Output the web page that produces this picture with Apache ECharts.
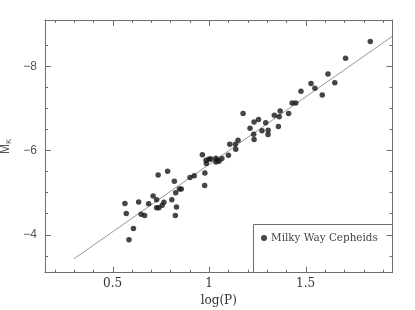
<!DOCTYPE html>
<html>
<head>
<meta charset="utf-8">
<script src="https://cdn.jsdelivr.net/npm/echarts@6/dist/echarts.min.js"></script>
<style>html,body{margin:0;padding:0;background:#fff;}#c{width:415px;height:310px;}</style>
</head>
<body>
<div id="c"></div>
<script>
// Data
const logP = [0.564,0.571,0.585,0.608,0.635,0.648,0.666,0.687,0.710,0.728,0.728,0.736,0.740,0.757,0.766,0.785,0.807,0.820,0.827,0.831,0.825,0.846,0.856,0.901,0.923,0.965,0.978,0.977,0.986,0.984,1.000,1.009,1.035,1.035,1.042,1.052,1.066,1.100,1.107,1.136,1.138,1.150,1.176,1.212,1.231,1.233,1.233,1.256,1.274,1.293,1.306,1.305,1.338,1.359,1.363,1.368,1.412,1.430,1.449,1.476,1.528,1.548,1.586,1.616,1.651,1.707,1.835];
const MK = [-4.745,-4.507,-3.88,-4.15,-4.78,-4.49,-4.46,-4.74,-4.92,-4.83,-4.64,-5.42,-4.645,-4.70,-4.77,-5.51,-4.83,-5.27,-5.00,-4.66,-4.46,-5.09,-5.09,-5.36,-5.40,-5.90,-5.47,-5.17,-5.69,-5.77,-5.80,-5.80,-5.82,-5.73,-5.77,-5.745,-5.81,-5.89,-6.15,-6.15,-6.03,-6.245,-6.88,-6.53,-6.39,-6.26,-6.68,-6.74,-6.47,-6.66,-6.48,-6.38,-6.84,-6.57,-6.80,-6.94,-6.88,-7.13,-7.13,-7.41,-7.59,-7.48,-7.32,-7.82,-7.61,-8.19,-8.59];
const fitX = [0.30, 1.95];
const fitY = [-3.43, -8.715];
const seriesName = 'Milky Way Cepheids';
const xMajor = [0.5, 1, 1.5];
const xMinor = [0.2,0.3,0.4,0.6,0.7,0.8,0.9,1.1,1.2,1.3,1.4,1.6,1.7,1.8,1.9];
const yMajor = [-8, -6, -4];
const yMinor = [-8.5,-7.5,-7,-6.5,-5.5,-5,-4.5,-3.5];
const xRange = [0.15, 1.95];
const yRange = [-9.1, -3.1];

const frameColor = '#6e6e6e';
const MAJOR_LEN = 6, MINOR_LEN = 3;
const chart = echarts.init(document.getElementById('c'), null, {renderer: 'canvas'});

function yAx(pos, vals, len, major, showLine) {
  return {
    type: 'value', position: pos, min: yRange[0], max: yRange[1], inverse: true,
    splitLine: {show: false},
    axisLine: {show: showLine, onZero: false, lineStyle: {color: frameColor, width: 1}},
    axisTick: {show: true, inside: true, length: len, customValues: vals, lineStyle: {color: frameColor, width: 1}},
    axisLabel: (major && pos === 'left') ? {
      show: true, customValues: vals, margin: 8, color: '#555',
      fontFamily: 'Liberation Sans', fontSize: 12,
      formatter: v => String(v).replace('-', '\u2212')
    } : {show: false},
    name: (major && pos === 'left') ? '{m|M}{k|K}' : '',
    nameLocation: 'middle', nameGap: 29, nameRotate: 90,
    nameTextStyle: {
      color: '#555', fontFamily: 'Liberation Sans',
      rich: {
        m: {fontSize: 12, color: '#555', fontFamily: 'Liberation Sans'},
        k: {fontSize: 8, color: '#555', fontFamily: 'Liberation Sans', verticalAlign: 'bottom', padding: [5, 0, 0, 0]}
      }
    }
  };
}

// x ticks (top and bottom, inward) drawn through the x scale
function xTickRender(params, api) {
  const v = api.value(0);
  const len = api.value(2) ? MAJOR_LEN : MINOR_LEN;
  const cs = params.coordSys;
  const px = Math.round(api.coord([v, api.value(1)])[0]) + 0.5;
  const yb = cs.y + cs.height, yt = cs.y;
  const st = {stroke: frameColor, lineWidth: 1, fill: null};
  return {
    type: 'group',
    children: [
      {type: 'line', shape: {x1: px, y1: yb, x2: px, y2: yb - len}, style: st},
      {type: 'line', shape: {x1: px, y1: yt, x2: px, y2: yt + len}, style: st}
    ]
  };
}

const option = {
  animation: false,
  backgroundColor: '#fff',
  grid: {left: 45, right: 22.5, top: 20, bottom: 37.3, containLabel: false, outerBoundsMode: 'none'},
  xAxis: [
    {
      type: 'value', position: 'bottom', min: xRange[0], max: xRange[1],
      splitLine: {show: false},
      axisLine: {show: true, onZero: false, lineStyle: {color: frameColor, width: 1}},
      axisTick: {show: false},
      axisLabel: {
        show: true, customValues: xMajor, margin: 5, color: '#333',
        fontFamily: 'DejaVu Serif', fontSize: 12, formatter: v => String(v)
      },
      name: 'log(P)', nameLocation: 'middle', nameGap: 21,
      nameTextStyle: {fontFamily: 'DejaVu Serif', fontSize: 12, color: '#333'}
    },
    {
      type: 'value', position: 'top', min: xRange[0], max: xRange[1],
      splitLine: {show: false},
      axisLine: {show: true, onZero: false, lineStyle: {color: frameColor, width: 1}},
      axisTick: {show: false}, axisLabel: {show: false}
    }
  ],
  yAxis: [
    yAx('left', yMajor, MAJOR_LEN, true, true),
    yAx('left', yMinor, MINOR_LEN, false, false),
    yAx('right', yMajor, MAJOR_LEN, true, true),
    yAx('right', yMinor, MINOR_LEN, false, false)
  ],
  legend: {
    show: true, data: [seriesName], left: 256, top: 228,
    icon: 'circle', itemWidth: 6, itemHeight: 6, itemGap: 4,
    textStyle: {fontFamily: 'DejaVu Serif', fontSize: 10.4, color: '#444', padding: [0,0,0,-1]}
  },
  graphic: [{
    type: 'polyline', silent: true,
    shape: {points: [[253.5, 273], [253.5, 224.5], [392.5, 224.5]]},
    style: {stroke: frameColor, lineWidth: 1, fill: null}
  }],
  series: [
    {
      name: 'xticks', type: 'custom', xAxisIndex: 0, yAxisIndex: 0,
      data: xMajor.map(v => [v, -6, 1]).concat(xMinor.map(v => [v, -6, 0])),
      encode: {x: 0, y: 1}, renderItem: xTickRender, silent: true, clip: false, z: 0
    },
    {
      name: 'fit', type: 'line', xAxisIndex: 0, yAxisIndex: 0,
      data: fitX.map((x, i) => [x, fitY[i]]),
      symbol: 'none', clip: true,
      lineStyle: {color: '#8a8a8a', width: 0.9}, z: 1
    },
    {
      name: seriesName, type: 'scatter', xAxisIndex: 0, yAxisIndex: 0,
      data: logP.map((x, i) => [x, MK[i]]),
      symbol: 'circle', symbolSize: 5.5,
      itemStyle: {color: '#161616'}, z: 3
    }
  ]
};
chart.setOption(option);
</script>
</body>
</html>
